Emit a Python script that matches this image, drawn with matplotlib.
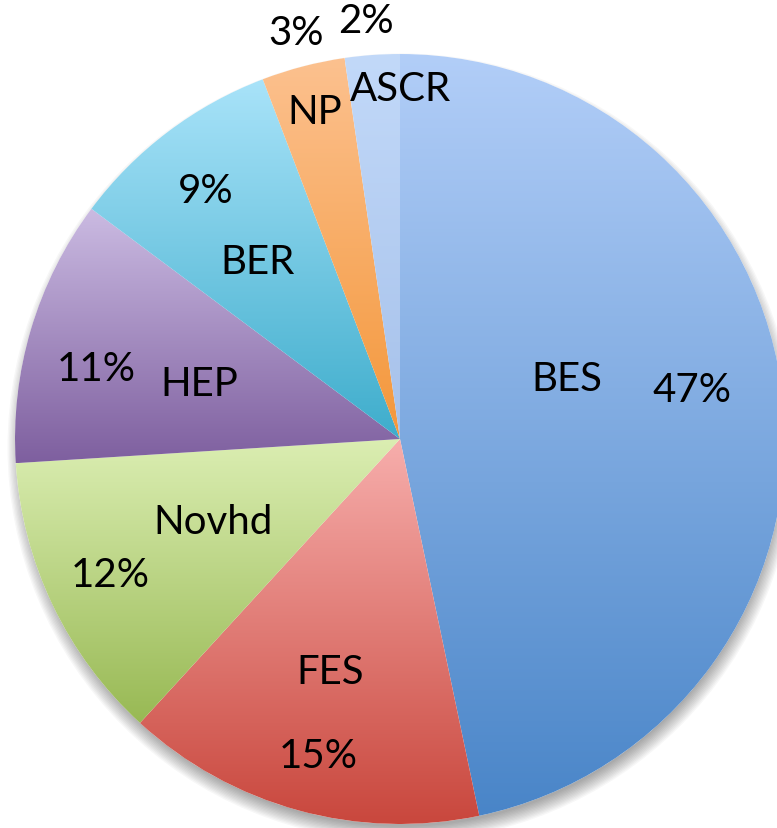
import numpy as np
import matplotlib.pyplot as plt
from matplotlib.colors import LinearSegmentedColormap
from matplotlib.patches import Circle

# ---- data ----
categories = ['BES', 'FES', 'Novhd', 'HEP', 'BER', 'NP', 'ASCR']
shares = [46.7, 15.1, 12.2, 11.2, 9.0, 3.5, 2.3]
pct_labels = ['47%', '15%', '12%', '11%', '9%', '3%', '2%']

# gradient colours per slice (top -> bottom)
top_colors = ['#b2cef8', '#f7aeac', '#dbeeb2', '#cbbbe2', '#a9e3f9', '#fcc18f', '#c2d9f9']
bottom_colors = ['#4985c8', '#c9473d', '#98b954', '#7e5f9f', '#3eadcc', '#f4973a', '#a6c1ea']

# label positions (radius fraction, angle in degrees)
name_pos = [(0.46, 20), (0.63, -106.8), (0.53, 203.7), (0.54, 164.6),
            (0.59, 128.7), (0.88, 104.6), (0.91, 90)]
pct_pos = [(0.77, 9.7), (0.85, -104.5), (0.83, 205), (0.81, 167),
           (0.82, 128), (1.09, 104.3), (1.09, 94.6)]

fig = plt.figure(figsize=(7.77, 8.29), dpi=100)
ax = fig.add_axes([0, 0, 1, 1])

# soft shadow under the pie (shifted down)
for k in range(12):
    ax.add_patch(Circle((0.004, -0.022), 0.985 + k * 0.0035, color='black',
                        alpha=0.03, lw=0, zorder=0))

wedges, _ = ax.pie(shares, startangle=90, counterclock=False, radius=1.0,
                   wedgeprops=dict(linewidth=0))

for w, c0, c1 in zip(wedges, top_colors, bottom_colors):
    w.set_facecolor('none')
    ext = w.get_path().get_extents()
    cmap = LinearSegmentedColormap.from_list('g', [c0, c1])
    grad = np.linspace(0, 1, 256).reshape(-1, 1)
    im = ax.imshow(grad, cmap=cmap, aspect='auto', zorder=1,
                   extent=[ext.x0, ext.x1, ext.y0, ext.y1], origin='upper')
    im.set_clip_path(w)

# white backing disk so shadow does not show through
ax.add_patch(Circle((0, 0), 1.0, color='white', lw=0, zorder=0.5))

font = ['Lato', 'DejaVu Sans']
for name, (r, a) in zip(categories, name_pos):
    t = np.deg2rad(a)
    ax.text(r * np.cos(t), r * np.sin(t), name, ha='center', va='center',
            fontsize=29, family=font, zorder=3)
for lab, (r, a) in zip(pct_labels, pct_pos):
    t = np.deg2rad(a)
    ax.text(r * np.cos(t), r * np.sin(t), lab, ha='center', va='center',
            fontsize=29, family=font, zorder=3)

ax.set_xlim(-400 / 385, 377 / 385)
ax.set_ylim(-389 / 385, 440 / 385)
ax.set_aspect('auto')
ax.axis('off')

plt.savefig('out.png', dpi=100)
